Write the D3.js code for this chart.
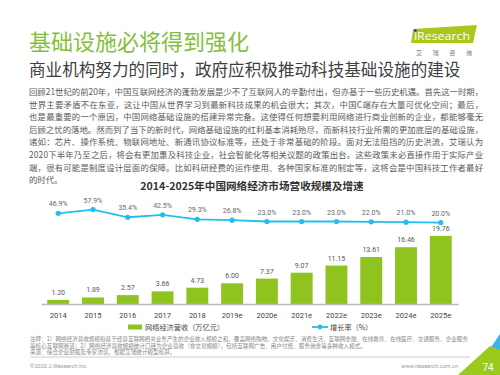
<!DOCTYPE html>
<html><head><meta charset="utf-8">
<script src="https://cdn.jsdelivr.net/npm/d3@7/dist/d3.min.js"></script>
<style>
html,body{margin:0;padding:0;background:#fff;}
svg{display:block;font-family:"Noto Sans CJK SC","Noto Sans",sans-serif;}
</style></head>
<body>
<svg id="c" width="500" height="375"></svg>
<script>
const years = ["2014","2015","2016","2017","2018","2019e","2020e","2021e","2022e","2023e","2024e","2025e"];
const revenue = [1.20,1.89,2.57,3.66,4.73,6.00,7.37,9.07,11.15,13.61,16.46,19.76];
const growth = [46.9,57.9,35.4,42.5,29.3,26.8,23.0,23.0,23.0,22.0,21.0,20.0];
const revenueLabels = ["1.20","1.89","2.57","3.66","4.73","6.00","7.37","9.07","11.15","13.61","16.46","19.76"];
const growthLabels = ["46.9%","57.9%","35.4%","42.5%","29.3%","26.8%","23.0%","23.0%","23.0%","22.0%","21.0%","20.0%"];
const title = "基础设施必将得到强化";
const subtitle = "商业机构努力的同时，政府应积极推动科技基础设施的建设";
const paragraph = [
 "回顾21世纪的前20年，中国互联网经济的蓬勃发展是少不了互联网人的辛勤付出，但亦基于一些历史机遇。首先这一时期，",
 "世界主要矛盾不在东亚，这让中国从世界学习到最新科技成果的机会很大；其次，中国C端存在大量可优化空间；最后，",
 "也是最重要的一个原因，中国网络基础设施的搭建异常完备。这使得任何想要利用网络进行商业创新的企业，都能够毫无",
 "后顾之忧的落地。然而到了当下的新时代，网络基础设施的红利基本消耗殆尽，而新科技行业所需的更加底层的基础设施，",
 "诸如：芯片、操作系统、物联网地址、新通讯协议标准等，还处于非常基础的阶段。面对无法阻挡的历史洪流，艾瑞认为",
 "2020下半年乃至之后，将会有更加惠及科技企业，社会智能化等相关议题的政策出台。这些政策未必直接作用于实际产业",
 "端，很有可能是制度设计层面的保障。比如科研经费的运作使用、各种国家标准的制定等，这将会是中国科技工作者最好",
 "的时代。"
];
const chartTitle = "2014-2025年中国网络经济市场营收规模及增速";
const legendNames = ["网络经济营收（万亿元）","增长率（%）"];
const notes = [
 "注释：1）网络经济营收规模指基于经营互联网相关业务产生的企业收入规模之和，覆盖网络购物、文化娱乐、消费生活、互联网金融、在线教育、在线医疗、交通服务、企业服务",
 "等核心互联网赛道；2）网络经济营收规模统计口径为企业营收（非交易规模），包括互联网广告、用户付费、服务佣金等多种收入模式。",
 "来源：综合企业财报及专家访谈，根据艾瑞统计模型核算。"
];

const green = "#8fc31f", blue = "#25bdf0";
const svg = d3.select("#c");

// Header
svg.append("text").attr("x",29).attr("y",50).attr("font-size",22).attr("fill","#84bf3c").text(title);
svg.append("text").attr("x",29).attr("y",76).attr("font-size",16.6).attr("fill","#404040").text(subtitle);

// Logo
const lg = svg.append("g");
lg.append("polygon").attr("points","413,29 477,25 473,43 411,43").attr("fill","#a9c81c");
lg.append("text").attr("x",414).attr("y",40).attr("font-size",11).attr("fill","#fff")
  .attr("textLength",56).attr("lengthAdjust","spacingAndGlyphs")
  .attr("font-family","Open Sans, sans-serif").text("iResearch");
lg.append("circle").attr("cx",415.4).attr("cy",30.6).attr("r",1.5).attr("fill","#1d4fa0");
lg.append("text").attr("x",416).attr("y",55).attr("font-size",6).attr("fill","#777")
  .attr("textLength",56).attr("lengthAdjust","spacing").text("艾瑞咨询");

// Paragraph
paragraph.forEach((t,i)=>{
  const tx = svg.append("text").attr("x",29).attr("y",95+i*12.6).attr("font-size",8.4).attr("fill","#5a5a5a").text(t);
  if(i<paragraph.length-1) tx.attr("textLength",454).attr("lengthAdjust","spacing");
});

// Chart title
svg.append("text").attr("x",252).attr("y",190).attr("text-anchor","middle").attr("font-size",10.6)
  .attr("font-weight","bold").attr("fill","#333").text(chartTitle);

// Scales
const x = d3.scaleBand().domain(years).range([41,458]).paddingInner(0.37).paddingOuter(0.18);
const y = d3.scaleLinear().domain([0,20]).range([304,235]);
const yg = d3.scaleLinear().domain([0,100]).range([229.4,195.1]);

// Bars
svg.append("g").selectAll("rect").data(revenue).join("rect")
  .attr("x",(d,i)=>x(years[i])).attr("width",x.bandwidth())
  .attr("y",d=>y(d)).attr("height",d=>y(0)-y(d)).attr("fill",green);
svg.append("g").selectAll("text").data(revenue).join("text")
  .attr("x",(d,i)=>x(years[i])+x.bandwidth()/2).attr("y",d=>y(d)-5)
  .attr("text-anchor","middle").attr("font-size",7).attr("fill","#555")
  .attr("font-family","Roboto, sans-serif").text((d,i)=>revenueLabels[i]);

// Axis
const axis = d3.axisBottom(x).tickSize(0).tickPadding(9);
const ag = svg.append("g").attr("transform","translate(0,304)").call(axis);
ag.select(".domain").attr("stroke","#bbb").attr("stroke-width",1.5);
ag.selectAll("text").attr("font-size",7.5).attr("fill","#444").attr("font-family","Roboto, sans-serif");

// Line
const line = d3.line().x((d,i)=>x(years[i])+x.bandwidth()/2).y(d=>yg(d));
svg.append("path").datum(growth).attr("d",line).attr("fill","none").attr("stroke",blue).attr("stroke-width",1.8);
svg.append("g").selectAll("circle").data(growth).join("circle")
  .attr("cx",(d,i)=>x(years[i])+x.bandwidth()/2).attr("cy",d=>yg(d)).attr("r",2.6).attr("fill",blue);
svg.append("g").selectAll("text").data(growth).join("text")
  .attr("x",(d,i)=>x(years[i])+x.bandwidth()/2).attr("y",d=>yg(d)-7)
  .attr("text-anchor","middle").attr("font-size",7).attr("fill","#666")
  .attr("font-family","Roboto, sans-serif").text((d,i)=>growthLabels[i]);

// Legend
svg.append("rect").attr("x",128).attr("y",324.5).attr("width",14).attr("height",5).attr("fill",green);
svg.append("text").attr("x",145).attr("y",330).attr("font-size",7.2).attr("fill","#444").text(legendNames[0]);
svg.append("line").attr("x1",312).attr("x2",328).attr("y1",327).attr("y2",327).attr("stroke",blue).attr("stroke-width",1.8);
svg.append("circle").attr("cx",320).attr("cy",327).attr("r",2.4).attr("fill",blue);
svg.append("text").attr("x",330).attr("y",330).attr("font-size",7.2).attr("fill","#444").text(legendNames[1]);

// Notes
notes.forEach((t,i)=>{
  const tx = svg.append("text").attr("x",30).attr("y",341+i*6.6).attr("font-size",5.6).attr("fill","#888").text(t);
  if(i===0) tx.attr("textLength",438).attr("lengthAdjust","spacingAndGlyphs");
});

// Footer
svg.append("line").attr("x1",30).attr("x2",470).attr("y1",357).attr("y2",357).attr("stroke","#ccc").attr("stroke-width",1);
svg.append("text").attr("x",30).attr("y",368).attr("font-size",5.6).attr("fill","#999")
  .attr("font-family","Roboto, sans-serif").text("©2020.2 iResearch Inc.");
svg.append("text").attr("x",458).attr("y",368).attr("text-anchor","end").attr("font-size",5.6).attr("fill","#999")
  .attr("font-family","Roboto, sans-serif").text("www.iresearch.com.cn");
svg.append("polygon").attr("points","500,334 500,375 472,375").attr("fill","#3bb4e6");
svg.append("polygon").attr("points","490,346 500,350 500,375 458,375").attr("fill","#9cc91e");
svg.append("text").attr("x",488).attr("y",371).attr("text-anchor","middle").attr("font-size",10)
  .attr("fill","#fff").attr("font-family","Roboto, sans-serif").text("74");
</script>
</body></html>
